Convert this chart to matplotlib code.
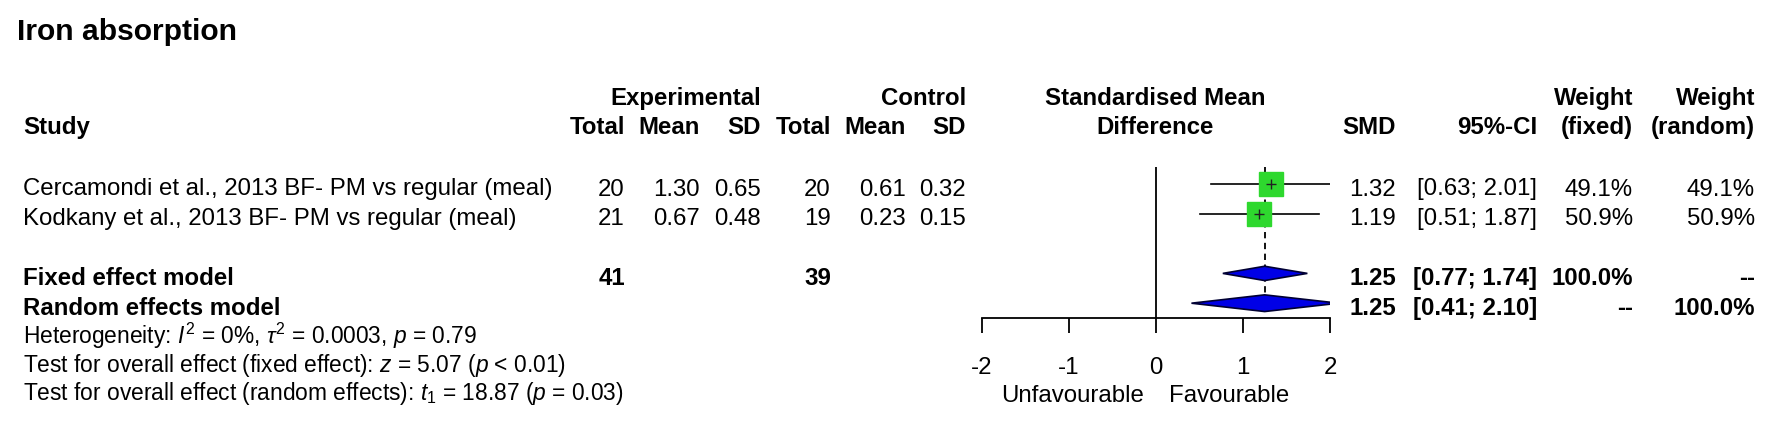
import matplotlib
matplotlib.use('Agg')
import matplotlib.pyplot as plt
import matplotlib.transforms as mtransforms
import numpy as np

# data
studies = ['Cercamondi et al., 2013 BF- PM vs regular (meal)',
           'Kodkany et al., 2013 BF- PM vs regular (meal)']
exp_total = [20, 21]
exp_mean = [1.30, 0.67]
exp_sd = [0.65, 0.48]
ctrl_total = [20, 19]
ctrl_mean = [0.61, 0.23]
ctrl_sd = [0.32, 0.15]
smd = [1.32, 1.19]
ci_lo = [0.63, 0.51]
ci_hi = [2.01, 1.87]
w_fixed = [49.1, 50.9]
w_random = [49.1, 50.9]

fixed_est, fixed_lo, fixed_hi = 1.25, 0.77, 1.74
random_est, random_lo, random_hi = 1.25, 0.41, 2.10
fixed_n_exp, fixed_n_ctrl = 41, 39

het_text = r'Heterogeneity: $I^2$ = 0%, $\tau^2$ = 0.0003, $p$ = 0.79'
test_fixed_text = r'Test for overall effect (fixed effect): $z$ = 5.07 ($p$ < 0.01)'
test_random_text = r'Test for overall effect (random effects): $t_1$ = 18.87 ($p$ = 0.03)'

ticks = [-2, -1, 0, 1, 2]

plt.rcParams['font.family'] = 'Liberation Sans'
plt.rcParams['axes.unicode_minus'] = False
plt.rcParams['mathtext.fontset'] = 'custom'
plt.rcParams['mathtext.rm'] = 'Liberation Sans'
plt.rcParams['mathtext.it'] = 'Liberation Sans:italic'
plt.rcParams['mathtext.bf'] = 'Liberation Sans:bold'

W, H = 1772, 422
FS = 17.3
FS_FOOT = 16.4

# layout: rows are 29.8 px apart, first study row centred at 184 px
ROW0, STEP = 184, 29.8
def px_row(py):
    return (py - ROW0) / STEP

fig = plt.figure(figsize=(W / 100, H / 100), dpi=100)
x_left, x_right = 981.5, 1330
y_top, y_axis = 150, 318
ax = fig.add_axes([x_left / W, 1 - y_axis / H, (x_right - x_left) / W, (y_axis - y_top) / H])
ax.set_xlim(-2, 2)
ax.set_ylim(px_row(y_axis), px_row(y_top))

study_rows = [0, 1]
fixed_row, random_row = 3.0, 4.0
ref_top = px_row(167)

# reference line and dashed pooled line
ax.vlines(0, ref_top, px_row(y_axis), color='black', lw=1.3, zorder=1)
ax.vlines(fixed_est, ref_top, random_row, color='black', lw=1.3,
          linestyles=(0, (3.5, 2.5)), zorder=0)

# study CIs and squares
wmax = max(w_fixed)
for i, r in enumerate(study_rows):
    ax.plot([ci_lo[i], ci_hi[i]], [r, r], color='black', lw=1.2, zorder=1)
    ax.plot(smd[i], r, marker='s', ms=17.4 * np.sqrt(w_fixed[i] / wmax),
            color='#2ed82e', mec='#2ed82e', zorder=2)
    ax.plot(smd[i], r, marker='+', ms=7, mew=1, color='#222222', zorder=3)

# diamonds
for est, lo, hi, r, h in [(fixed_est, fixed_lo, fixed_hi, fixed_row, 0.24),
                          (random_est, random_lo, random_hi, random_row, 0.28)]:
    ax.fill([lo, est, hi, est], [r, r - h, r, r + h], facecolor='#0000e6',
            edgecolor='#000033', lw=1.2, zorder=3)

# axis
for s in ['top', 'left', 'right']:
    ax.spines[s].set_visible(False)
ax.spines['bottom'].set_linewidth(1.3)
ax.set_yticks([])
ax.set_xticks(ticks)
ax.set_xticklabels([str(t) for t in ticks])
ax.tick_params(axis='x', direction='out', length=10.8, width=1.3, pad=17, labelsize=FS)
ax.patch.set_alpha(0)

ax.text(-0.14, px_row(402), 'Unfavourable', ha='right', va='baseline', fontsize=FS)
ax.text(0.15, px_row(402), 'Favourable', ha='left', va='baseline', fontsize=FS)

# text columns: x in pixels, y in rows
px_tr = mtransforms.Affine2D().scale(1 / W, 1 / H) + fig.transFigure
tr = mtransforms.blended_transform_factory(px_tr, ax.transData)
BASE = 11.5 / STEP

def put(x, r, s, ha='right', bold=False, fs=FS):
    fig.text(x, r + BASE, s, transform=tr, ha=ha, va='baseline', fontsize=fs,
             fontweight='bold' if bold else 'normal')

col_x = {'label': 23, 'et': 625, 'em': 700, 'es': 761, 'ct': 831, 'cm': 906,
         'cs': 966, 'smd': 1396, 'ci': 1537, 'wf': 1633, 'wr': 1755}

# title
put(17, px_row(40) - BASE, 'Iron absorption', ha='left', bold=True, fs=21.6)

# headers
h1, h2 = -3.05, -2.07
put(col_x['es'], h1, 'Experimental', bold=True)
put(col_x['cs'], h1, 'Control', bold=True)
put(1155.5, h1, 'Standardised Mean', ha='center', bold=True)
put(col_x['wf'], h1, 'Weight', bold=True)
put(col_x['wr'], h1, 'Weight', bold=True)
put(col_x['label'], h2, 'Study', ha='left', bold=True)
for key, lab in [('et', 'Total'), ('em', 'Mean'), ('es', 'SD'), ('ct', 'Total'),
                 ('cm', 'Mean'), ('cs', 'SD'), ('smd', 'SMD'), ('ci', '95%-CI'),
                 ('wf', '(fixed)'), ('wr', '(random)')]:
    put(col_x[key], h2, lab, bold=True)
put(1155.5, h2, 'Difference', ha='center', bold=True)

# study rows
for i, r in enumerate(study_rows):
    put(col_x['label'], r, studies[i], ha='left')
    put(col_x['et'], r, str(exp_total[i]))
    put(col_x['em'], r, f'{exp_mean[i]:.2f}')
    put(col_x['es'], r, f'{exp_sd[i]:.2f}')
    put(col_x['ct'], r, str(ctrl_total[i]))
    put(col_x['cm'], r, f'{ctrl_mean[i]:.2f}')
    put(col_x['cs'], r, f'{ctrl_sd[i]:.2f}')
    put(col_x['smd'], r, f'{smd[i]:.2f}')
    put(col_x['ci'], r, f'[{ci_lo[i]:.2f}; {ci_hi[i]:.2f}]')
    put(col_x['wf'], r, f'{w_fixed[i]:.1f}%')
    put(col_x['wr'], r, f'{w_random[i]:.1f}%')

# pooled rows
put(col_x['label'], fixed_row, 'Fixed effect model', ha='left', bold=True)
put(col_x['et'], fixed_row, str(fixed_n_exp), bold=True)
put(col_x['ct'], fixed_row, str(fixed_n_ctrl), bold=True)
put(col_x['smd'], fixed_row, f'{fixed_est:.2f}', bold=True)
put(col_x['ci'], fixed_row, f'[{fixed_lo:.2f}; {fixed_hi:.2f}]', bold=True)
put(col_x['wf'], fixed_row, '100.0%', bold=True)
put(col_x['wr'], fixed_row, '--', bold=True)

put(col_x['label'], random_row, 'Random effects model', ha='left', bold=True)
put(col_x['smd'], random_row, f'{random_est:.2f}', bold=True)
put(col_x['ci'], random_row, f'[{random_lo:.2f}; {random_hi:.2f}]', bold=True)
put(col_x['wf'], random_row, '--', bold=True)
put(col_x['wr'], random_row, '100.0%', bold=True)

# footer
put(col_x['label'], 4.98, het_text, ha='left', fs=FS_FOOT)
put(col_x['label'], 5.92, test_fixed_text, ha='left', fs=FS_FOOT)
put(col_x['label'], 6.86, test_random_text, ha='left', fs=FS_FOOT)

fig.savefig('out.png', dpi=100, facecolor='white')
